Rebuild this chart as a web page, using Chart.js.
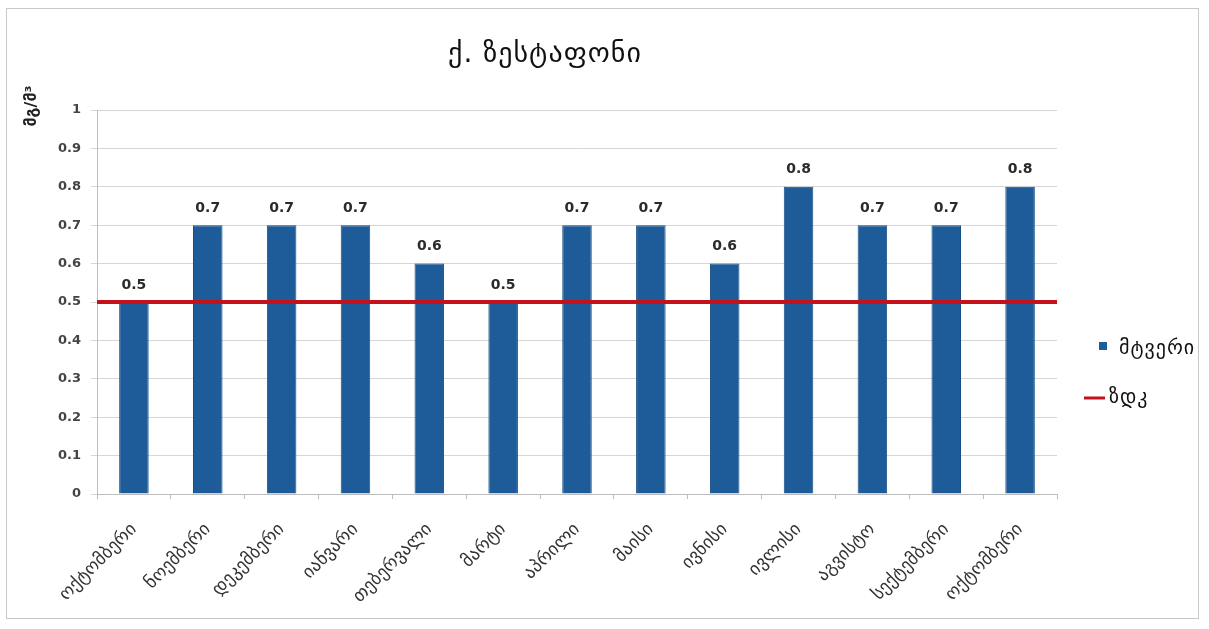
<!DOCTYPE html>
<html>
<head>
<meta charset="utf-8">
<script src="https://cdn.jsdelivr.net/npm/chart.js@4.4.1/dist/chart.umd.min.js"></script>
<style>
  html, body { margin: 0; padding: 0; background: #fff; }
  #wrap { position: relative; width: 1209px; height: 629px; }
  #frame { position: absolute; left: 6px; top: 8px; width: 1193px; height: 611px; border: 1px solid #c8c8c8; box-sizing: border-box; pointer-events: none; }
  canvas { position: absolute; left: 0; top: 0; }
</style>
</head>
<body>
<div id="wrap">
  <canvas id="c" width="1209" height="629"></canvas>
  <div id="frame"></div>
</div>
<script>
// Monthly dust concentration, Zestaponi
const chartTitle = 'ქ. ზესტაფონი';
const unitLabel = 'მგ/მ³';
const months = ['ოქტომბერი', 'ნოემბერი', 'დეკემბერი', 'იანვარი', 'თებერვალი', 'მარტი', 'აპრილი', 'მაისი', 'ივნისი', 'ივლისი', 'აგვისტო', 'სექტემბერი', 'ოქტომბერი'];
const dustValues = [0.5, 0.7, 0.7, 0.7, 0.6, 0.5, 0.7, 0.7, 0.6, 0.8, 0.7, 0.7, 0.8];
const limitValue = [0.5, 0.5];
const yTickLabels = ['0', '0.1', '0.2', '0.3', '0.4', '0.5', '0.6', '0.7', '0.8', '0.9', '1'];
const seriesNames = ['მტვერი', 'ზდკ'];

const FONT = '"DejaVu Sans", "Noto Sans", sans-serif';
const BAR_COLOR = '#1d5c98';
const LINE_COLOR = '#c3121c';

// value labels, title, unit label and legend
const extras = {
  id: 'extras',
  afterDatasetsDraw(chart) {
    const ctx = chart.ctx;
    const meta = chart.getDatasetMeta(0);
    ctx.save();
    ctx.font = 'bold 14px ' + FONT;
    ctx.fillStyle = '#2b2b2b';
    ctx.textAlign = 'center';
    ctx.textBaseline = 'middle';
    meta.data.forEach((bar, i) => {
      ctx.fillText(String(dustValues[i]), bar.x, bar.y - 17);
    });
    ctx.restore();
  },
  afterDraw(chart) {
    const ctx = chart.ctx;
    ctx.save();
    // title
    ctx.font = '28px ' + FONT;
    ctx.letterSpacing = '1px';
    ctx.fillStyle = '#111';
    ctx.textAlign = 'center';
    ctx.textBaseline = 'middle';
    ctx.fillText(chartTitle, 545, 55);
    // unit label
    ctx.save();
    ctx.letterSpacing = '0px';
    ctx.translate(32, 106);
    ctx.rotate(-Math.PI / 2);
    ctx.font = 'bold 16px ' + FONT;
    ctx.fillStyle = '#222';
    ctx.fillText(unitLabel, 0, 0);
    ctx.restore();
    // legend
    ctx.font = '20px ' + FONT;
    ctx.letterSpacing = '1px';
    ctx.textAlign = 'left';
    ctx.fillStyle = BAR_COLOR;
    ctx.fillRect(1099, 342, 8, 8);
    ctx.fillStyle = '#111';
    ctx.fillText(seriesNames[0], 1119, 349);
    ctx.strokeStyle = LINE_COLOR;
    ctx.lineWidth = 3;
    ctx.beginPath();
    ctx.moveTo(1084, 398);
    ctx.lineTo(1105, 398);
    ctx.stroke();
    ctx.fillText(seriesNames[1], 1109, 398);
    ctx.restore();
  }
};

new Chart(document.getElementById('c'), {
  type: 'bar',
  data: {
    labels: months,
    datasets: [
      {
        type: 'bar',
        label: seriesNames[0],
        data: dustValues,
        backgroundColor: BAR_COLOR,
        borderColor: '#174f85',
        borderWidth: 1,
        grouped: false,
        barPercentage: 0.4,
        categoryPercentage: 1,
        order: 2
      },
      {
        type: 'line',
        label: seriesNames[1],
        data: limitValue,
        xAxisID: 'xLine',
        borderColor: LINE_COLOR,
        borderWidth: 4,
        pointRadius: 0,
        fill: false,
        order: 1
      }
    ]
  },
  options: {
    responsive: false,
    animation: false,
    layout: { padding: { left: 0, top: 110, right: 152, bottom: 0 } },
    plugins: { legend: { display: false }, title: { display: false }, tooltip: { enabled: false } },
    scales: {
      x: {
        type: 'category',
        offset: true,
        grid: { display: true, drawOnChartArea: false, color: '#bdbdbd', tickLength: 5, offset: true },
        border: { color: '#bdbdbd' },
        ticks: {
          maxRotation: 45, minRotation: 45, autoSkip: false, padding: 20,
          color: '#333', font: { family: FONT, size: 18 }
        },
        afterFit(scale) { scale.height = 135; }
      },
      xLine: {
        type: 'category',
        labels: ['', ''],
        offset: false,
        display: false
      },
      y: {
        min: 0, max: 1,
        ticks: {
          stepSize: 0.1,
          color: '#444',
          padding: 10,
          font: { family: FONT, size: 13, weight: 'bold' },
          callback: (v, i) => yTickLabels[i]
        },
        grid: { color: '#d6d6d6', tickLength: 6 },
        border: { color: '#bdbdbd' },
        afterFit(scale) { scale.width = 97; }
      }
    }
  },
  plugins: [extras]
});
</script>
</body>
</html>
